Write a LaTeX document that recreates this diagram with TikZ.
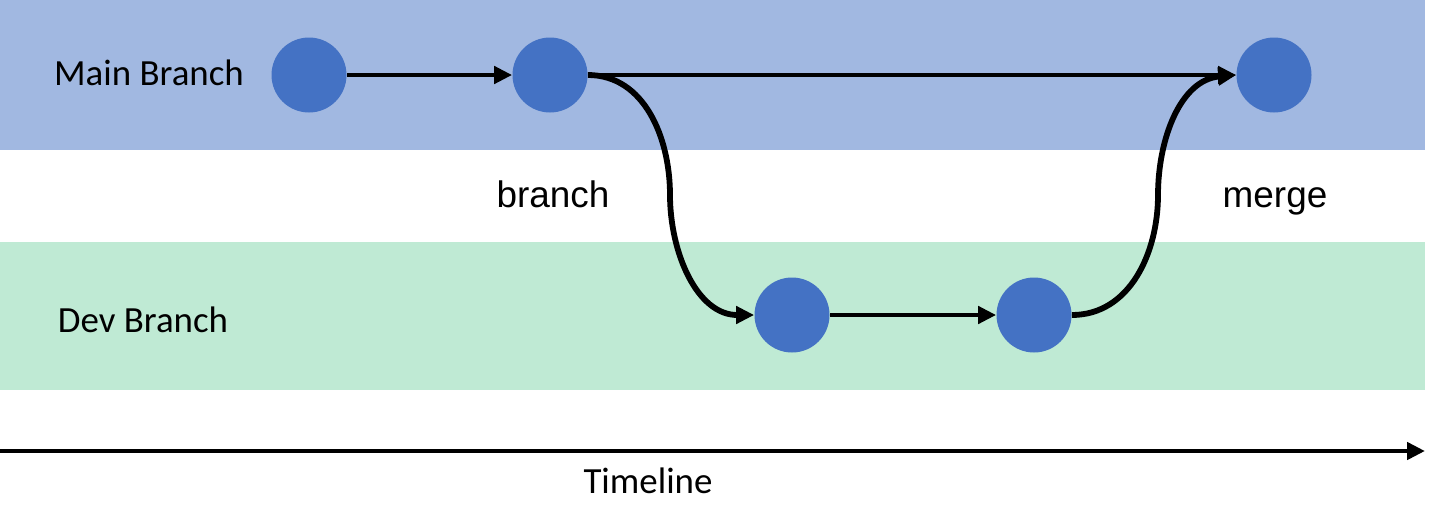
\documentclass[tikz,border=0pt]{standalone}
\usepackage{fontspec}
\setmainfont{Carlito}
\newfontfamily\arialfont{Liberation Sans}
\usetikzlibrary{arrows.meta, positioning}

\definecolor{mainband}{HTML}{A1B8E1}
\definecolor{devband}{HTML}{BFEAD4}
\definecolor{commitblue}{HTML}{4472C4}

\begin{document}
\begin{tikzpicture}[
        commit/.style={circle, fill=commitblue, minimum size=1.5cm, inner sep=0pt},
        lane/.style={font=\fontsize{21}{25}\selectfont},
        tag/.style={anchor=base, font=\arialfont\fontsize{21}{25}\selectfont},
        arrow/.style={-{Triangle[length=3.6mm, width=3.4mm]}, line width=2.7pt},
        curvearrow/.style={arrow, line width=3.3pt}
    ]
        \useasboundingbox (0,0) rectangle (28.82,10.58);
        % lanes
        \fill[mainband] (0,7.58) rectangle (28.5,10.58);
        \fill[devband] (0,2.78) rectangle (28.5,5.74);
        \node[lane] (lmain) at (2.98,9.12) {Main Branch};
        \node[lane] (ldev) at (2.86,4.18) {Dev Branch};
        % commits
        \node[commit] (m1) at (6.18,9.08) {};
        \node[commit] (m2) at (11.0,9.08) {};
        \node[commit] (m3) at (25.48,9.08) {};
        \node[commit] (d1) at (15.84,4.28) {};
        \node[commit] (d2) at (20.68,4.28) {};
        \node[tag] (tbranch) at (11.06,6.44) {branch};
        \node[tag] (tmerge) at (25.5,6.44) {merge};
        \draw[arrow] (m1) -- (m2);
        \draw[arrow] (m2) -- (m3);
        \draw[arrow] (d1) -- (d2);
        \draw[curvearrow] (m2.east) to[out=0, in=90] (13.4,6.68) to[out=-90, in=180] (d1.west);
        \draw[curvearrow] (d2.east) to[out=0, in=-90] (23.16,6.68) to[out=90, in=185] (m3.west);
        % timeline
        \coordinate (tstart) at (0,1.56);
        \coordinate (tend) at (28.5,1.56);
        \draw[arrow] (tstart) -- (tend);
        \node[lane] (ttime) at (12.96,0.96) {Timeline};
    \end{tikzpicture}
\end{document}
